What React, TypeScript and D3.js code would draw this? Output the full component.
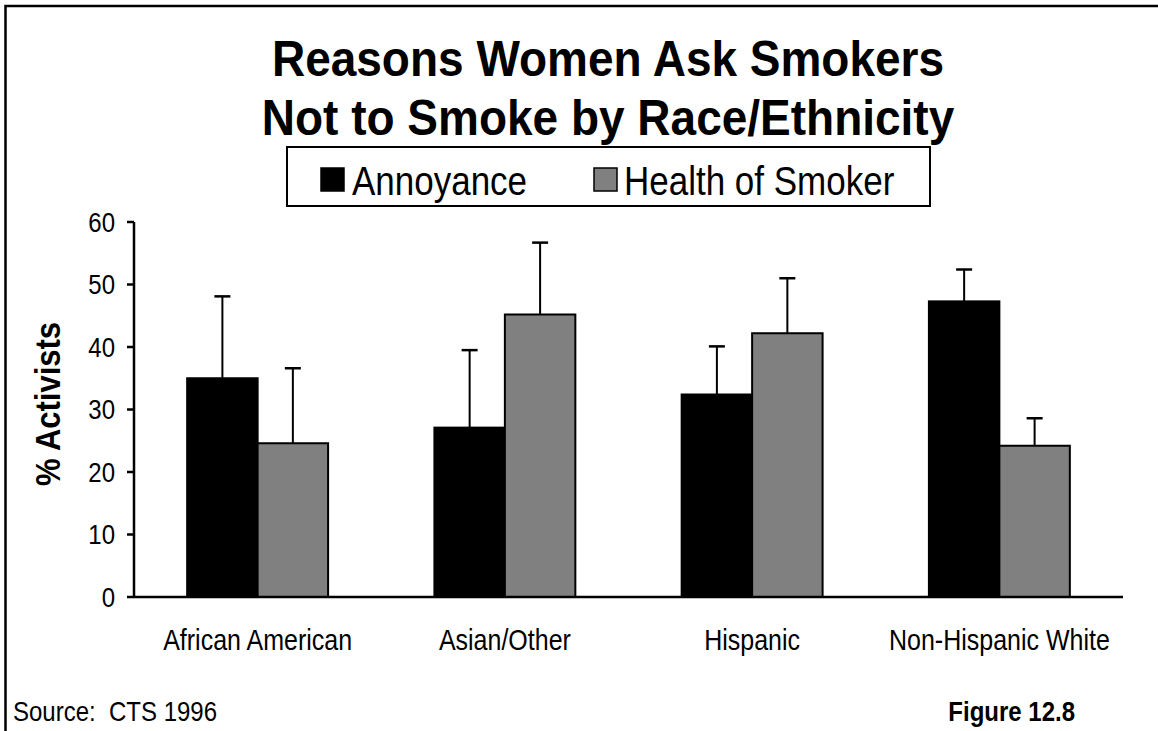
import React from "react";
import * as d3 from "d3";

const categories = ["African American", "Asian/Other", "Hispanic", "Non-Hispanic White"];
const seriesNames = ["Annoyance", "Health of Smoker"];
const annoyance = [35.0, 27.1, 32.4, 47.3];
const annoyanceErr = [48.1, 39.5, 40.1, 52.4];
const health = [24.6, 45.2, 42.2, 24.2];
const healthErr = [36.6, 56.7, 51.0, 28.6];
const yTicks = [0, 10, 20, 30, 40, 50, 60];
const colors = ["#000000", "#808080"];
const titleLines = ["Reasons Women Ask Smokers", "Not to Smoke by Race/Ethnicity"];

const W = 1158;
const H = 731;
const FONT = "'Liberation Sans', Arial, Helvetica, sans-serif";
const STRETCH = 1.16;

type TProps = {
  x: number;
  y: number;
  size: number;
  anchor?: "start" | "middle" | "end";
  bold?: boolean;
  sy?: number;
  rotate?: number;
  dy?: string;
  children: React.ReactNode;
};

function T({ x, y, size, anchor = "start", bold = false, sy = STRETCH, rotate = 0, dy, children }: TProps) {
  return (
    <text
      transform={`translate(${x},${y}) rotate(${rotate}) scale(1,${sy})`}
      textAnchor={anchor}
      fontSize={size}
      fontWeight={bold ? "bold" : "normal"}
      fill="#000"
      dy={dy}
      style={{ whiteSpace: "pre" }}
    >
      {children}
    </text>
  );
}

export default function App() {
  const x0 = d3.scaleBand<string>().domain(categories).range([134, 1123]).paddingInner(0.43).paddingOuter(0.215);
  const x1 = d3.scaleBand<string>().domain(seriesNames).range([0, x0.bandwidth()]).padding(0);
  const y = d3.scaleLinear().domain([0, 60]).range([597, 222]);

  const rows = categories.map((c, i) => ({
    cat: c,
    bars: [
      { s: seriesNames[0], v: annoyance[i], e: annoyanceErr[i], color: colors[0] },
      { s: seriesNames[1], v: health[i], e: healthErr[i], color: colors[1] },
    ],
  }));

  const capW = 16;

  return (
    <svg width={W} height={H} style={{ display: "block", position: "absolute", left: 0, top: 0, background: "#fff" }} fontFamily={FONT}>
      <rect x={0} y={0} width={W} height={H} fill="#fff" />
      {/* frame */}
      <rect x={5.5} y={6} width={W + 20} height={H + 20} fill="none" stroke="#000" strokeWidth={2.5} />

      {/* title */}
      {titleLines.map((t, i) => (
        <T key={t} x={608} y={76 + i * 59} size={46} anchor="middle" bold sy={1.08}>
          {t}
        </T>
      ))}

      {/* legend */}
      <rect x={287} y={147} width={643} height={59} fill="#fff" stroke="#000" strokeWidth={2} />
      <rect x={321} y={168} width={23} height={23} fill={colors[0]} stroke="#000" strokeWidth={1.5} />
      <T x={352} y={195} size={35}>{seriesNames[0]}</T>
      <rect x={594} y={168} width={23} height={23} fill={colors[1]} stroke="#000" strokeWidth={1.5} />
      <T x={624} y={195} size={35}>{seriesNames[1]}</T>

      {/* y axis */}
      <line x1={134} x2={134} y1={y(60)} y2={y(0)} stroke="#000" strokeWidth={2.5} />
      {yTicks.map((t) => (
        <g key={t}>
          <line x1={127} x2={134} y1={y(t)} y2={y(t)} stroke="#000" strokeWidth={2.5} />
          <T x={115} y={y(t) + 9.8} size={24} anchor="end">
            {t}
          </T>
        </g>
      ))}
      <T x={60} y={404} size={31} anchor="middle" bold rotate={-90}>
        % Activists
      </T>

      {/* bars */}
      {rows.map((r) => (
        <g key={r.cat} transform={`translate(${x0(r.cat)},0)`}>
          {r.bars.map((b) => {
            const bx = x1(b.s)!;
            const cx = bx + x1.bandwidth() / 2;
            return (
              <g key={b.s}>
                <line x1={cx} x2={cx} y1={y(b.v)} y2={y(b.e)} stroke="#000" strokeWidth={2} />
                <line x1={cx - capW / 2} x2={cx + capW / 2} y1={y(b.e)} y2={y(b.e)} stroke="#000" strokeWidth={2.5} />
                <rect x={bx} y={y(b.v)} width={x1.bandwidth()} height={y(0) - y(b.v)} fill={b.color} stroke="#000" strokeWidth={2} />
              </g>
            );
          })}
        </g>
      ))}

      {/* x axis */}
      <line x1={134} x2={1123} y1={y(0)} y2={y(0)} stroke="#000" strokeWidth={2.5} />
      {categories.map((c) => (
        <T key={c} x={x0(c)! + x0.bandwidth() / 2} y={650} size={25} anchor="middle">
          {c}
        </T>
      ))}

      {/* footer */}
      <T x={13} y={721} size={24}>{"Source:  CTS 1996"}</T>
      <T x={1075} y={721} size={24} anchor="end" bold>Figure 12.8</T>
    </svg>
  );
}
